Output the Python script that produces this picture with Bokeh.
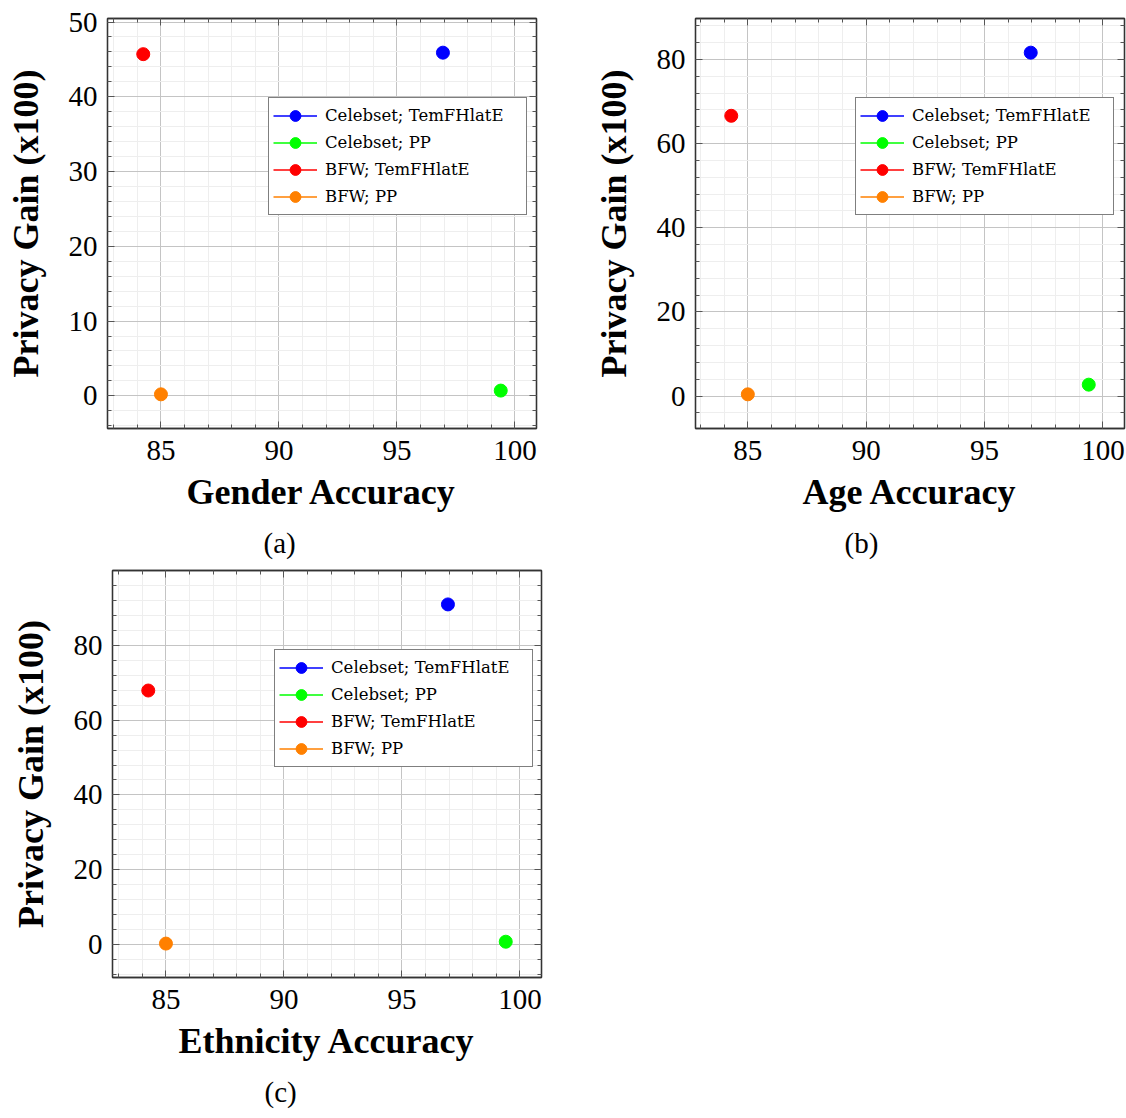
from bokeh.plotting import figure
from bokeh.models import Range1d, SingleIntervalTicker, LinearAxis, Legend, LegendItem, Title
from bokeh.layouts import column, row
from bokeh.embed import file_html
from bokeh.resources import INLINE

# ---------------- data ----------------
methods = ["Celebset; TemFHlatE", "Celebset; PP", "BFW; TemFHlatE", "BFW; PP"]

gender_accuracy = [96.95, 99.4, 84.25, 85.0]
gender_gain = [45.9, 0.7, 45.7, 0.2]

age_accuracy = [96.95, 99.4, 84.3, 85.0]
age_gain = [81.6, 2.7, 66.6, 0.4]

ethnicity_accuracy = [96.95, 99.4, 84.25, 85.0]
ethnicity_gain = [90.9, 0.8, 67.9, 0.3]

x_tick_step = 5
gender_tick_step = 10
age_tick_step = 20
ethnicity_tick_step = 20

# ---------------- styling ----------------
COLORS = ["#0000ff", "#00ff00", "#ff0000", "#ff8000"]
SERIF = "Liberation Serif"
LEG_FONT = "DejaVu Serif"


def padded(vals, frac=0.1):
    lo, hi = min(vals), max(vals)
    d = (hi - lo) * frac
    return Range1d(lo - d, hi + d)


def style_axis(ax, labels=True):
    ax.axis_line_color = "#333333"
    ax.axis_line_width = 1.3
    ax.major_tick_in = 7
    ax.major_tick_out = 0
    ax.minor_tick_in = 4
    ax.minor_tick_out = 0
    ax.major_tick_line_color = "#555555"
    ax.minor_tick_line_color = "#555555"
    if labels:
        ax.major_label_text_font = SERIF
        ax.major_label_text_font_size = "29px"
        ax.major_label_text_color = "black"
        ax.axis_label_text_font = SERIF
        ax.axis_label_text_font_size = "36px"
        ax.axis_label_text_font_style = "bold"
        ax.axis_label_text_color = "black"
    else:
        ax.major_label_text_font_size = "0px"
        ax.major_label_text_color = None
        ax.major_label_standoff = 0
        ax.axis_label_standoff = 0


def panel(xs, ys, xlabel, caption, cap_offset, y_step, width, height, borders, legend_xy):
    p = figure(width=width, height=height, x_range=padded(xs), y_range=padded(ys),
               output_backend="svg", toolbar_location=None,
               min_border_left=borders[0], min_border_right=borders[1],
               min_border_top=borders[2], min_border_bottom=borders[3],
               background_fill_color="white", border_fill_color="white")
    p.outline_line_color = "#333333"
    p.outline_line_width = 1.3

    xt = SingleIntervalTicker(interval=x_tick_step, num_minor_ticks=5)
    yt = SingleIntervalTicker(interval=y_step, num_minor_ticks=5)
    p.xaxis.ticker = xt
    p.yaxis.ticker = yt
    p.xgrid.ticker = xt
    p.ygrid.ticker = yt
    for g in (p.xgrid, p.ygrid):
        g.grid_line_color = "#c4c4c4"
        g.grid_line_width = 1
        g.minor_grid_line_color = "#eeeeee"
        g.minor_grid_line_width = 1

    style_axis(p.xaxis[0])
    style_axis(p.yaxis[0])
    p.xaxis.axis_label = xlabel
    p.yaxis.axis_label = "Privacy Gain (x100)"
    p.xaxis.major_label_standoff = 12
    p.xaxis.axis_label_standoff = 9
    p.yaxis.major_label_standoff = 10
    p.yaxis.axis_label_standoff = 20

    top = LinearAxis(ticker=xt)
    style_axis(top, labels=False)
    p.add_layout(top, "above")
    right = LinearAxis(ticker=yt)
    style_axis(right, labels=False)
    p.add_layout(right, "right")

    cap = Title(text=caption, align="left", offset=cap_offset, text_font=SERIF,
                text_font_size="29px", text_font_style="normal", text_color="black",
                standoff=21)
    p.add_layout(cap, "below")

    items = []
    for i, m in enumerate(methods):
        ln = p.line([xs[i]], [ys[i]], line_color=COLORS[i], line_width=1.3)
        sc = p.scatter([xs[i]], [ys[i]], size=13, fill_color=COLORS[i], line_color=COLORS[i])
        items.append(LegendItem(label=m, renderers=[ln, sc]))
    leg = Legend(items=items, location=legend_xy, margin=0, padding=4, spacing=0,
                 glyph_width=44, glyph_height=27, label_height=27, label_standoff=8,
                 label_width=197, label_text_font=LEG_FONT, label_text_font_size="16.5px",
                 label_text_color="black", border_line_color="black", border_line_width=1,
                 background_fill_color="white", background_fill_alpha=1.0)
    p.add_layout(leg, "center")
    return p


pa = panel(gender_accuracy, gender_gain, "Gender Accuracy", "(a)", 156, gender_tick_step,
           588, 569, (107, 52, 17, 141), (161, 213))
pb = panel(age_accuracy, age_gain, "Age Accuracy", "(b)", 149, age_tick_step,
           538, 569, (107, 2, 18, 141), (160, 213))
pc = panel(ethnicity_accuracy, ethnicity_gain, "Ethnicity Accuracy", "(c)", 152, ethnicity_tick_step,
           551, 549, (112, 10, 1, 141), (162, 210))

layout = column(row(pa, pb), pc)
open("out.html", "w").write(file_html(layout, INLINE))
